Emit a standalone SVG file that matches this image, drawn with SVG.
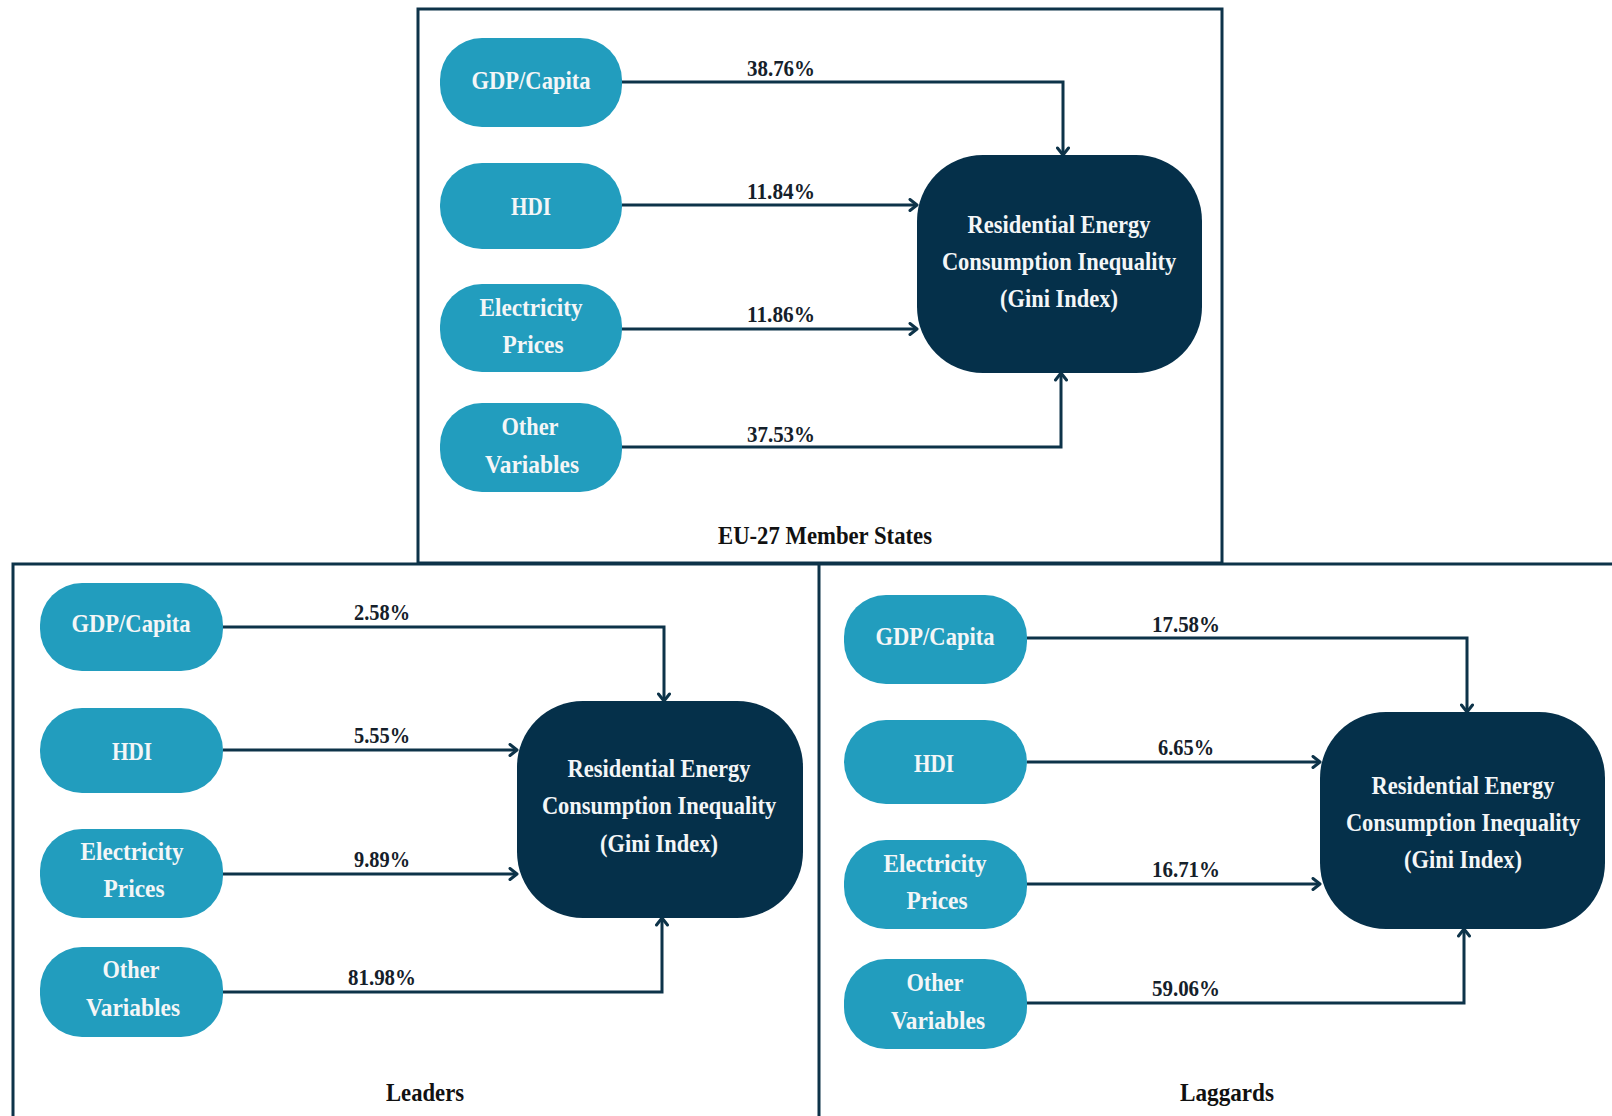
<svg xmlns="http://www.w3.org/2000/svg" width="1612" height="1116" viewBox="0 0 1612 1116">
  <style>
    .frame { fill: none; stroke: #0d3349; stroke-width: 3; }
    .pill { fill: #229dbe; }
    .core { fill: #05304a; }
    .conn { fill: none; stroke: #0d3349; stroke-width: 3; marker-end: url(#chev); }
    text { font-family: "Liberation Serif", "Times New Roman", serif; font-weight: bold; text-anchor: middle; }
    .pt { fill: #f4f6f7; font-size: 26px; }
    .ct { fill: #f4f6f7; font-size: 26px; }
    .lbl { fill: #15202a; font-size: 24px; }
    .ttl { fill: #111111; font-size: 26px; }
  </style>
  <defs>
    <marker id="chev" viewBox="0 0 12 14" refX="9" refY="7" markerWidth="12" markerHeight="14" markerUnits="userSpaceOnUse" orient="auto">
      <path d="M2,1.5 L9,7 L2,12.5" fill="none" stroke="#0d3349" stroke-width="3" stroke-linecap="round" stroke-linejoin="round"/>
    </marker>
  </defs>

  <rect width="1612" height="1116" fill="#ffffff"/>

  <!-- panel frames: the lower two run off the bottom and right edges -->
  <g id="frames">
    <rect class="frame" x="418" y="9" width="804" height="554"/>
    <path class="frame" d="M13,1116 V564 H1612"/>
    <path class="frame" d="M819,564 V1116"/>
  </g>

  <!-- connectors -->
  <g id="connectors">
    <path class="conn" d="M622,82 H1063 V155"/>
    <path class="conn" d="M622,205 H917"/>
    <path class="conn" d="M622,329 H917"/>
    <path class="conn" d="M622,447 H1061 V373"/>

    <path class="conn" d="M223,627 H664 V701"/>
    <path class="conn" d="M223,750 H517"/>
    <path class="conn" d="M223,874 H517"/>
    <path class="conn" d="M223,992 H662 V918"/>

    <path class="conn" d="M1027,638 H1467 V712"/>
    <path class="conn" d="M1027,762 H1320"/>
    <path class="conn" d="M1027,884 H1320"/>
    <path class="conn" d="M1027,1003 H1464 V929"/>
  </g>

  <!-- percentage labels -->
  <g id="labels">
    <text class="lbl" x="781" y="76" textLength="68" lengthAdjust="spacingAndGlyphs">38.76%</text>
    <text class="lbl" x="781" y="199" textLength="68" lengthAdjust="spacingAndGlyphs">11.84%</text>
    <text class="lbl" x="781" y="322" textLength="68" lengthAdjust="spacingAndGlyphs">11.86%</text>
    <text class="lbl" x="781" y="442" textLength="68" lengthAdjust="spacingAndGlyphs">37.53%</text>

    <text class="lbl" x="382" y="620" textLength="56" lengthAdjust="spacingAndGlyphs">2.58%</text>
    <text class="lbl" x="382" y="743" textLength="56" lengthAdjust="spacingAndGlyphs">5.55%</text>
    <text class="lbl" x="382" y="867" textLength="56" lengthAdjust="spacingAndGlyphs">9.89%</text>
    <text class="lbl" x="382" y="985" textLength="68" lengthAdjust="spacingAndGlyphs">81.98%</text>

    <text class="lbl" x="1186" y="632" textLength="68" lengthAdjust="spacingAndGlyphs">17.58%</text>
    <text class="lbl" x="1186" y="755" textLength="56" lengthAdjust="spacingAndGlyphs">6.65%</text>
    <text class="lbl" x="1186" y="877" textLength="68" lengthAdjust="spacingAndGlyphs">16.71%</text>
    <text class="lbl" x="1186" y="996" textLength="68" lengthAdjust="spacingAndGlyphs">59.06%</text>
  </g>

  <!-- EU-27 panel -->
  <g id="eu-gdp">
    <rect class="pill" x="440" y="38" width="182" height="89" rx="42" ry="42"/>
    <text class="pt" x="531" y="89" textLength="119" lengthAdjust="spacingAndGlyphs">GDP/Capita</text>
  </g>
  <g id="eu-hdi">
    <rect class="pill" x="440" y="163" width="182" height="86" rx="42" ry="42"/>
    <text class="pt" x="531" y="215" textLength="40" lengthAdjust="spacingAndGlyphs">HDI</text>
  </g>
  <g id="eu-elec">
    <rect class="pill" x="440" y="284" width="182" height="88" rx="42" ry="42"/>
    <text class="pt" x="531" y="316" textLength="103" lengthAdjust="spacingAndGlyphs">Electricity</text>
    <text class="pt" x="533" y="353" textLength="61" lengthAdjust="spacingAndGlyphs">Prices</text>
  </g>
  <g id="eu-other">
    <rect class="pill" x="440" y="403" width="182" height="89" rx="42" ry="42"/>
    <text class="pt" x="530" y="435" textLength="57" lengthAdjust="spacingAndGlyphs">Other</text>
    <text class="pt" x="532" y="473" textLength="94" lengthAdjust="spacingAndGlyphs">Variables</text>
  </g>
  <g id="eu-gini">
    <rect class="core" x="917" y="155" width="285" height="218" rx="66" ry="66"/>
    <g transform="translate(1059,0) scale(0.865,1)">
      <text class="ct" x="0" y="233">Residential Energy</text>
      <text class="ct" x="0" y="270">Consumption Inequality</text>
      <text class="ct" x="0" y="307">(Gini Index)</text>
    </g>
  </g>
  <g id="eu-title">
    <text class="ttl" x="825" y="544" textLength="214" lengthAdjust="spacingAndGlyphs">EU-27 Member States</text>
  </g>

  <!-- Leaders panel -->
  <g id="ld-gdp">
    <rect class="pill" x="40" y="583" width="183" height="88" rx="42" ry="42"/>
    <text class="pt" x="131" y="632" textLength="119" lengthAdjust="spacingAndGlyphs">GDP/Capita</text>
  </g>
  <g id="ld-hdi">
    <rect class="pill" x="40" y="708" width="183" height="85" rx="42" ry="42"/>
    <text class="pt" x="132" y="760" textLength="40" lengthAdjust="spacingAndGlyphs">HDI</text>
  </g>
  <g id="ld-elec">
    <rect class="pill" x="40" y="829" width="183" height="89" rx="42" ry="42"/>
    <text class="pt" x="132" y="860" textLength="103" lengthAdjust="spacingAndGlyphs">Electricity</text>
    <text class="pt" x="134" y="897" textLength="61" lengthAdjust="spacingAndGlyphs">Prices</text>
  </g>
  <g id="ld-other">
    <rect class="pill" x="40" y="947" width="183" height="90" rx="42" ry="42"/>
    <text class="pt" x="131" y="978" textLength="57" lengthAdjust="spacingAndGlyphs">Other</text>
    <text class="pt" x="133" y="1016" textLength="94" lengthAdjust="spacingAndGlyphs">Variables</text>
  </g>
  <g id="ld-gini">
    <rect class="core" x="517" y="701" width="286" height="217" rx="66" ry="66"/>
    <g transform="translate(659,0) scale(0.865,1)">
      <text class="ct" x="0" y="777">Residential Energy</text>
      <text class="ct" x="0" y="814">Consumption Inequality</text>
      <text class="ct" x="0" y="852">(Gini Index)</text>
    </g>
  </g>
  <g id="ld-title">
    <text class="ttl" x="425" y="1101" textLength="78" lengthAdjust="spacingAndGlyphs">Leaders</text>
  </g>

  <!-- Laggards panel -->
  <g id="lg-gdp">
    <rect class="pill" x="844" y="595" width="183" height="89" rx="42" ry="42"/>
    <text class="pt" x="935" y="645" textLength="119" lengthAdjust="spacingAndGlyphs">GDP/Capita</text>
  </g>
  <g id="lg-hdi">
    <rect class="pill" x="844" y="720" width="183" height="84" rx="42" ry="42"/>
    <text class="pt" x="934" y="772" textLength="40" lengthAdjust="spacingAndGlyphs">HDI</text>
  </g>
  <g id="lg-elec">
    <rect class="pill" x="844" y="840" width="183" height="89" rx="42" ry="42"/>
    <text class="pt" x="935" y="872" textLength="103" lengthAdjust="spacingAndGlyphs">Electricity</text>
    <text class="pt" x="937" y="909" textLength="61" lengthAdjust="spacingAndGlyphs">Prices</text>
  </g>
  <g id="lg-other">
    <rect class="pill" x="844" y="959" width="183" height="90" rx="42" ry="42"/>
    <text class="pt" x="935" y="991" textLength="57" lengthAdjust="spacingAndGlyphs">Other</text>
    <text class="pt" x="938" y="1029" textLength="94" lengthAdjust="spacingAndGlyphs">Variables</text>
  </g>
  <g id="lg-gini">
    <rect class="core" x="1320" y="712" width="285" height="217" rx="66" ry="66"/>
    <g transform="translate(1463,0) scale(0.865,1)">
      <text class="ct" x="0" y="794">Residential Energy</text>
      <text class="ct" x="0" y="831">Consumption Inequality</text>
      <text class="ct" x="0" y="868">(Gini Index)</text>
    </g>
  </g>
  <g id="lg-title">
    <text class="ttl" x="1227" y="1101" textLength="94" lengthAdjust="spacingAndGlyphs">Laggards</text>
  </g>
</svg>
